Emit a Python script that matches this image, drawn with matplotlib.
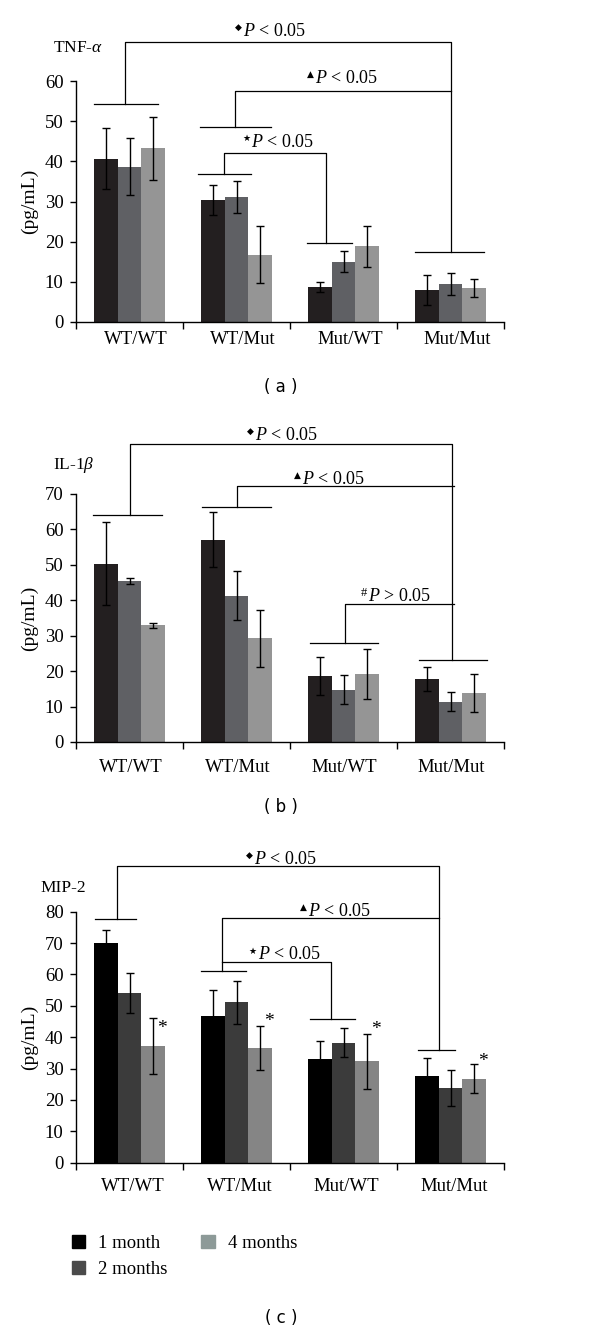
import matplotlib
matplotlib.use("Agg")
import matplotlib.pyplot as plt
from matplotlib.patches import Patch

# Fonts
plt.rcParams['font.family'] = ['Liberation Serif', 'DejaVu Sans']
plt.rcParams['mathtext.fontset'] = 'custom'
plt.rcParams['mathtext.rm'] = 'Liberation Serif'
plt.rcParams['mathtext.it'] = 'Liberation Serif:italic'

# Data
groups = ['WT/WT', 'WT/Mut', 'Mut/WT', 'Mut/Mut']
series = ['1 month', '2 months', '4 months']

tnf_mean = [[40.7, 30.4, 8.7, 8.0],
            [38.7, 31.1, 15.0, 9.5],
            [43.2, 16.8, 18.8, 8.4]]
tnf_err = [[7.6, 3.7, 1.2, 3.7],
           [7.0, 4.0, 2.6, 2.8],
           [7.8, 7.1, 5.2, 2.2]]

il1b_mean = [[50.3, 57.1, 18.6, 17.7],
             [45.5, 41.3, 14.8, 11.4],
             [33.0, 29.3, 19.1, 13.8]]
il1b_err = [[11.7, 7.7, 5.3, 3.4],
            [0.8, 6.9, 4.1, 2.7],
            [0.7, 8.0, 7.1, 5.3]]

mip2_mean = [[69.9, 46.7, 33.2, 27.7],
             [54.1, 51.1, 38.3, 23.8],
             [37.2, 36.7, 32.3, 26.8]]
mip2_err = [[4.2, 8.4, 5.7, 5.8],
            [6.5, 6.9, 4.5, 5.7],
            [8.9, 7.0, 8.7, 4.5]]
mip2_star_y = [42.8, 45.0, 42.3, 32.2]

# Significance brackets: group caps (left, right, y) and links (x1, x2, y1, y2, top)
caps_a = [(-0.33, 0.27, 54.2), (0.66, 1.32, 48.5), (0.64, 1.14, 36.8),
          (1.66, 2.08, 19.7), (2.67, 3.31, 17.5)]
links_a = [(-0.04, 3.0, 54.2, 17.5, 69.8), (0.99, 3.0, 48.5, 57.5, 57.5),
           (0.88, 1.84, 36.8, 19.7, 42.0)]
notes_a = [('◆', '<', 1.06, 72.3), ('▲', '<', 1.73, 60.7), ('★', '<', 1.14, 44.6)]

caps_b = [(-0.34, 0.30, 64.0), (0.68, 1.32, 66.3), (1.69, 2.32, 27.9),
          (2.71, 3.34, 23.1)]
links_b = [(0.0, 3.01, 64.0, 23.1, 84.0), (1.0, 3.03, 66.3, 72.2, 72.2),
           (2.01, 3.03, 27.9, 39.0, 39.0)]
notes_b = [('◆', '<', 1.17, 86.6), ('▲', '<', 1.61, 74.1), ('#', '>', 2.23, 41.0)]

caps_c = [(-0.32, 0.06, 77.8), (0.67, 1.09, 61.1), (1.69, 2.11, 45.9),
          (2.70, 3.04, 35.9)]
links_c = [(-0.12, 2.89, 77.8, 35.9, 94.6), (0.86, 2.89, 61.1, 77.9, 77.9),
           (0.86, 1.88, 64.1, 45.9, 64.1)]
notes_c = [('◆', '<', 1.16, 96.7), ('▲', '<', 1.67, 80.0), ('★', '<', 1.20, 66.2)]

colors_ab = ['#231f20', '#5f6064', '#959595']
colors_c = ['#000000', '#3b3b3b', '#858585']

W, H = 600, 1333
fig = plt.figure(figsize=(W / 100, H / 100), dpi=100)


def panel(y0_px, ytop_px, means, errs, ymax, colors, name, name_pos, caps, links,
          notes, label_pad, label_shift, sub, sub_y):
    ax = fig.add_axes([76 / W, 1 - y0_px / H, 428 / W, (y0_px - ytop_px) / H])
    width = 0.22
    for i in range(3):
        xs = [g + (i - 1) * width for g in range(4)]
        ax.bar(xs, means[i], width, color=colors[i], label=series[i])
        ax.errorbar(xs, means[i], yerr=errs[i], fmt='none', ecolor='black',
                    elinewidth=1, capsize=3, capthick=1)
    ax.set_xlim(-0.5, 3.5)
    ax.set_ylim(0, ymax)
    ax.set_yticks(range(0, ymax + 1, 10))
    ax.tick_params(axis='y', direction='out', length=4, width=1, labelsize=13.5, pad=5)
    ax.set_xticks([-0.5, 0.5, 1.5, 2.5, 3.5])
    ax.set_xticklabels([])
    ax.tick_params(axis='x', direction='out', length=5, width=1)
    for s in ['top', 'right']:
        ax.spines[s].set_visible(False)
    for s in ['left', 'bottom']:
        ax.spines[s].set_linewidth(1)
    for g, lab in enumerate(groups):
        ax.annotate(lab, (g + label_shift, 0), xytext=(0, -label_pad),
                    textcoords='offset pixels', ha='center', va='center',
                    fontsize=13.5, annotation_clip=False)
    ax.text(name_pos[0], name_pos[1], name, fontsize=12.5, ha='left', va='center')
    ax.set_ylabel('(pg/mL)', fontsize=14, labelpad=5)
    kw = dict(color='black', lw=0.9, clip_on=False)
    for xl, xr, y in caps:
        ax.plot([xl, xr], [y, y], **kw)
    for x1, x2, y1, y2, top in links:
        ax.plot([x1, x1, x2, x2], [y1, top, top, y2], **kw)
    for sym, rel, x, y in notes:
        ax.text(x, y, r'$\mathit{P}$ ' + rel + ' 0.05', fontsize=13,
                ha='left', va='center')
        ax.annotate(sym, (x, y), xytext=(-1, 4), textcoords='offset pixels',
                    ha='right', va='center', fontsize=6.5 if sym != '#' else 9,
                    family='DejaVu Sans' if sym != '#' else 'Liberation Serif',
                    annotation_clip=False)
    fig.text(281 / W, 1 - sub_y / H, '( ' + sub + ' )', family='DejaVu Sans',
             fontsize=12, ha='center', va='center')
    return ax


panel(322, 81, tnf_mean, tnf_err, 60, colors_ab, 'TNF-$\\alpha$', (-0.715, 68.1),
      caps_a, links_a, notes_a, 18, 0.06, 'a', 387)
panel(742, 494, il1b_mean, il1b_err, 70, colors_ab, 'IL-1$\\beta$', (-0.715, 78.2),
      caps_b, links_b, notes_b, 25, 0.01, 'b', 807)
ax_c = panel(1162.7, 911.7, mip2_mean, mip2_err, 80, colors_c, 'MIP-2', (-0.836, 87.5),
             caps_c, links_c, notes_c, 24, 0.03, 'c', 1318)

# asterisks on 4 months bars in (c)
for g, y in enumerate(mip2_star_y):
    ax_c.text(g + 0.22 + 0.085, y, '*', fontsize=14, ha='center', va='center')

handles = [Patch(color=c) for c in ['#000000', '#4a4a4a', '#8d9a98']]
fig.legend(handles, series, loc='upper left', bbox_to_anchor=(72 / W, 1 - 1235 / H),
           ncol=2, frameon=False, fontsize=13.5, handlelength=0.7, handleheight=0.7,
           handletextpad=0.7, labelspacing=0.45, columnspacing=1.8, borderpad=0,
           borderaxespad=0)

fig.savefig('out.png', dpi=100)
